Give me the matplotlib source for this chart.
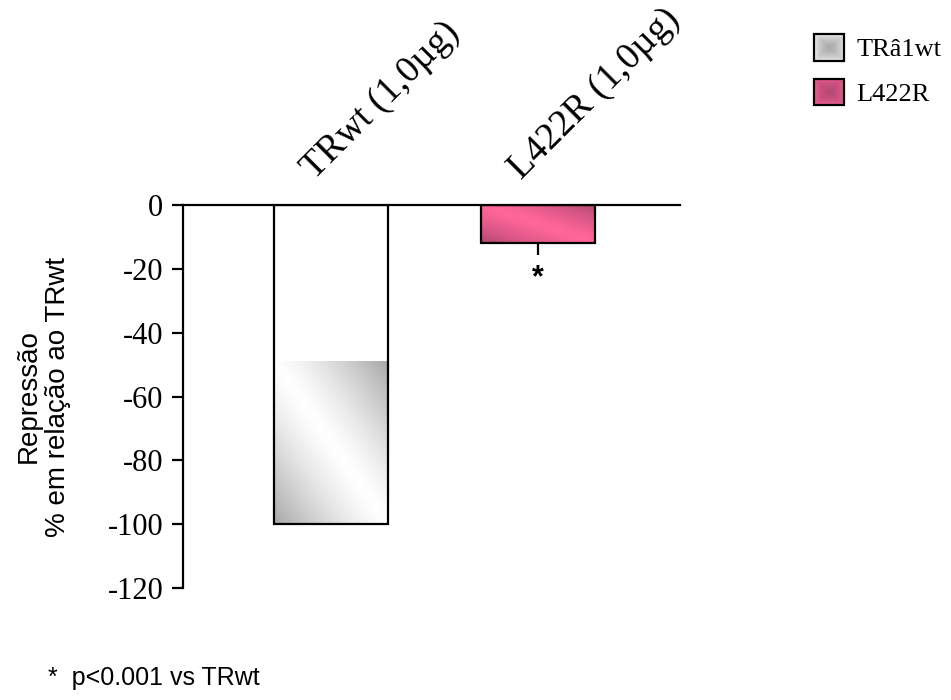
import numpy as np
import matplotlib

matplotlib.use("Agg")
import matplotlib.pyplot as plt
import matplotlib.transforms as mtransforms
from matplotlib.patches import Patch, Rectangle
from matplotlib.legend_handler import HandlerBase
from matplotlib.image import BboxImage

# data
groups = ["TRwt (1,0µg)", "L422R (1,0µg)"]
values = [-100, -12]
err_low = [0, 3.5]
legend_labels = ["TRâ1wt", "L422R"]
yticks = [0, -20, -40, -60, -80, -100, -120]

light = [(1.0, 1.0, 1.0), (1.0, 0.40, 0.60)]
dark = [(0.66, 0.66, 0.66), (0.70, 0.28, 0.45)]


def gradient(c_light, c_dark, n=120):
    # diagonal band: light through the middle, darker at two corners
    u = np.linspace(0, 1, n)
    uu, vv = np.meshgrid(u, u[::-1])
    t = np.abs((uu + vv) / 2 - 0.5) * 2
    t = t ** 1.3
    a = np.array(c_light)
    b = np.array(c_dark)
    return a[None, None, :] * (1 - t[..., None]) + b[None, None, :] * t[..., None]


def radial(c_light, c_dark, n=40):
    u = np.linspace(-1, 1, n)
    uu, vv = np.meshgrid(u, u)
    t = np.clip(1 - np.maximum(np.abs(uu), np.abs(vv)), 0, 1) ** 0.45
    a = np.array(c_light)
    b = np.array(c_dark)
    return a[None, None, :] * (1 - t[..., None]) + b[None, None, :] * t[..., None]


class HandlerGradient(HandlerBase):
    def __init__(self, c_light, c_dark):
        super().__init__()
        self.c_light = c_light
        self.c_dark = c_dark

    def create_artists(self, legend, orig_handle, xdescent, ydescent, width, height,
                       fontsize, trans):
        box = mtransforms.Bbox.from_bounds(-xdescent, -ydescent, width, height)
        im = BboxImage(mtransforms.TransformedBbox(box, trans), interpolation="bilinear")
        im.set_data(radial(self.c_light, self.c_dark))
        rect = Rectangle((-xdescent, -ydescent), width, height, facecolor="none",
                         edgecolor="black", linewidth=1.6, transform=trans)
        return [im, rect]


fig = plt.figure(figsize=(9.51, 7), dpi=100)
ax = fig.add_axes([0.192, 0.16, 0.523, 0.547])

x = np.arange(len(groups))
width = 0.55

# fills (the first bar is only shaded in its lower half, as in the original)
fill_top = [values[0] * 0.49, values[1]]
for i in range(len(groups)):
    top = 0 if i == 1 else fill_top[i]
    ax.imshow(gradient(light[i], dark[i]), aspect="auto", interpolation="bilinear",
              extent=[x[i] - width / 2, x[i] + width / 2, values[i], top], zorder=1)

ax.bar(x, values, width=width, facecolor="none", edgecolor="black", linewidth=1.6, zorder=2)
ax.errorbar(x[1:], values[1:], yerr=[err_low[1:], [0]], fmt="none", ecolor="black",
            elinewidth=1.6, capsize=0, zorder=3)
ax.annotate("*", (x[1], values[1] - err_low[1]), xytext=(0, -28), textcoords="offset points",
            ha="center", va="bottom", fontsize=22, family="Liberation Sans", fontweight="bold")

ax.set_xlim(-0.715, 1.686)
ax.set_ylim(-120, 0)
ax.set_yticks(yticks)
ax.set_yticklabels([str(v) for v in yticks], family="Liberation Serif", fontsize=22)
ax.tick_params(axis="y", length=8, width=1.6, pad=6)

ax.xaxis.tick_top()
ax.set_xticks(x)
ax.set_xticklabels(groups, family="Liberation Serif", fontsize=27, rotation=45,
                   ha="left", va="bottom", rotation_mode="anchor")
ax.tick_params(axis="x", length=0, pad=14)
shift = mtransforms.ScaledTranslation(-8 / 72, 0, fig.dpi_scale_trans)
for lab in ax.get_xticklabels():
    lab.set_transform(lab.get_transform() + shift)

for s in ["right", "bottom"]:
    ax.spines[s].set_visible(False)
ax.spines["left"].set_linewidth(1.6)
ax.spines["top"].set_linewidth(1.6)

ax.set_ylabel("Repressão\n% em relação ao TRwt", family="Liberation Sans", fontsize=20,
              labelpad=26, linespacing=1.2)

handles = [Patch(facecolor="none", label=l) for l in legend_labels]
fig.legend(handles, legend_labels, loc="upper left", bbox_to_anchor=(0.845, 0.966),
           frameon=False, prop={"family": "Liberation Serif", "size": 19},
           handlelength=1.15, handleheight=1.15, labelspacing=0.65, handletextpad=0.45,
           borderaxespad=0,
           handler_map={handles[i]: HandlerGradient(light[i], dark[i]) for i in range(2)})

fig.text(0.05, 0.022, "*  p<0.001 vs TRwt", family="Liberation Sans", fontsize=18)

fig.savefig("out.png", dpi=100)
